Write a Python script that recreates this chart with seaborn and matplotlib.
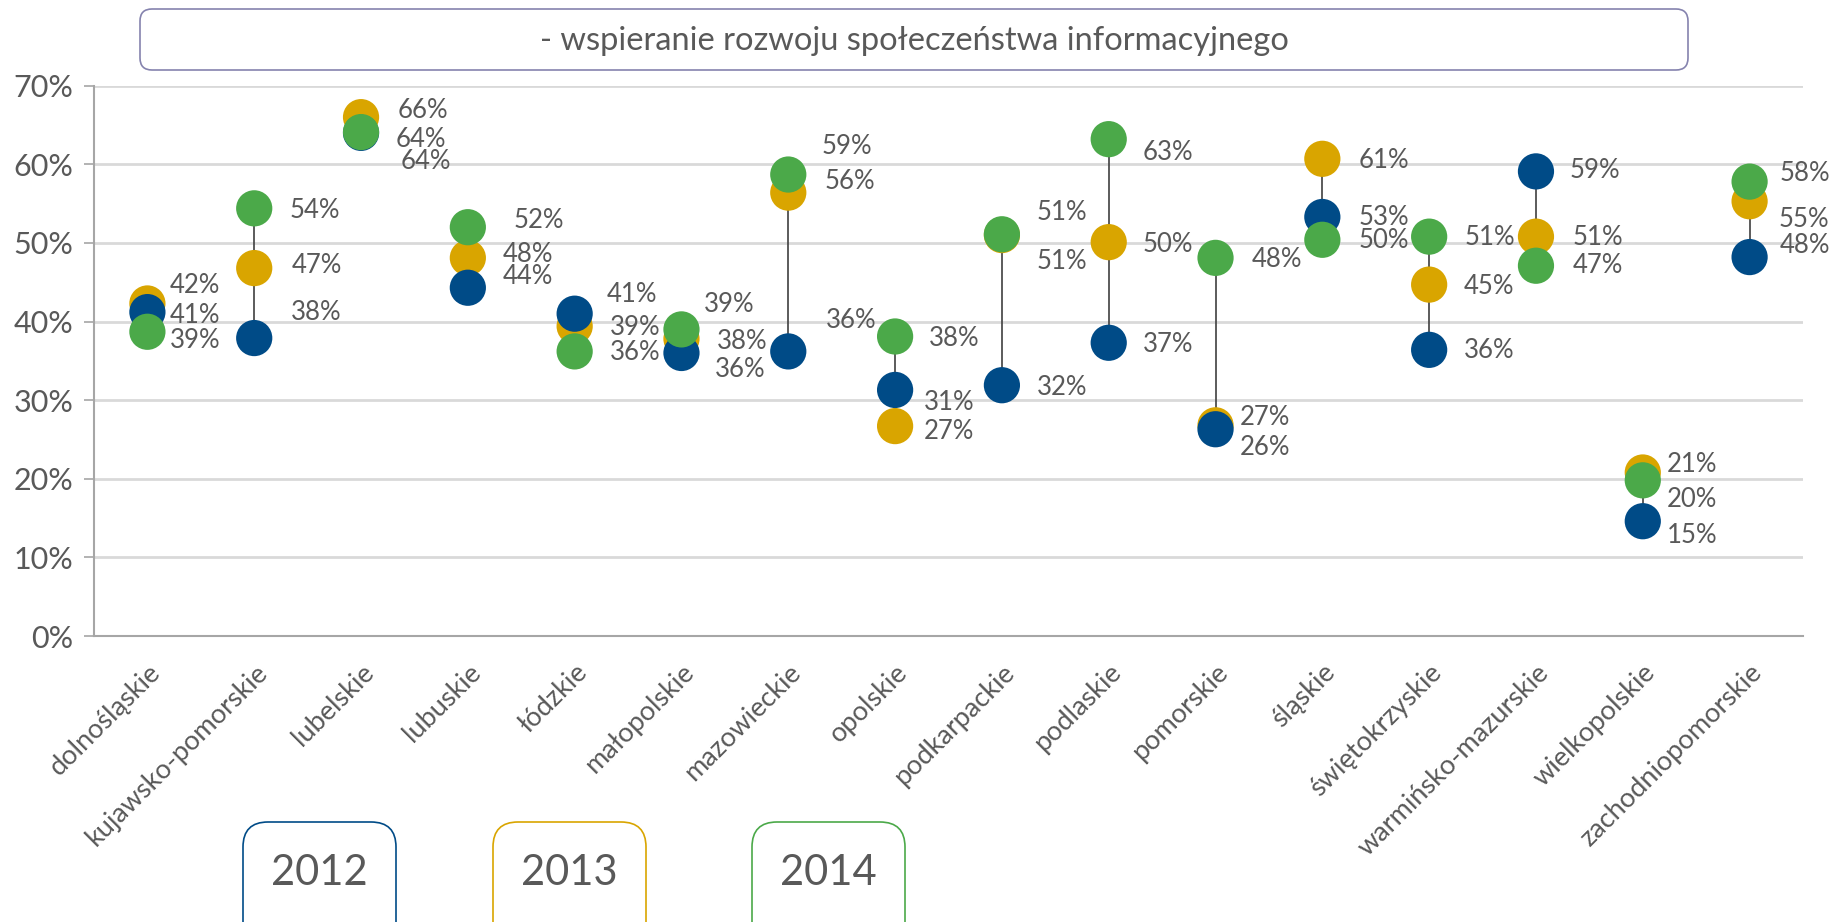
import numpy as np
import pandas as pd
import seaborn as sns
import matplotlib.pyplot as plt
from matplotlib.patches import FancyBboxPatch

# regions and shares per year
regions = ["dolnośląskie", "kujawsko-pomorskie", "lubelskie", "lubuskie", "łódzkie",
           "małopolskie", "mazowieckie", "opolskie", "podkarpackie", "podlaskie",
           "pomorskie", "śląskie", "świętokrzyskie", "warmińsko-mazurskie",
           "wielkopolskie", "zachodniopomorskie"]
v2012 = [41.2, 37.9, 64.0, 44.3, 41.0, 36.0, 36.2, 31.3, 31.9, 37.3, 26.3, 53.3, 36.4, 59.1, 14.6, 48.2]
v2013 = [42.3, 46.8, 66.0, 48.1, 39.4, 37.8, 56.4, 26.7, 51.0, 50.1, 26.8, 60.7, 44.7, 50.8, 20.8, 55.3]
v2014 = [38.7, 54.4, 64.1, 52.0, 36.2, 39.0, 58.7, 38.1, 51.1, 63.2, 48.1, 50.4, 50.8, 47.1, 19.8, 57.8]
years = ["2012", "2013", "2014"]
title = "- wspieranie rozwoju społeczeństwa informacyjnego"

colors = {"2012": "#004B87", "2013": "#D9A500", "2014": "#4BA949"}
text_col = "#595959"

# label offsets in pixels (dx right of point centre, dy down), manual like in excel
lab_off = {
    "2012": [(22, 3), (37, -26), (40, 29), (35, -11), (32, -19), (33, 17), (38, -31), (29, 13),
             (35, 2), (34, 2), (24, 18), (36, 1), (35, 1), (34, -1), (24, 14), (30, -12)],
    "2013": [(22, -18), (37, -3), (37, -7), (35, -3), (35, 1), (35, 3), (36, -11), (29, 5),
             (35, 26), (34, 2), (24, -8), (36, 2), (35, 2), (37, 1), (24, -8), (29, 18)],
    "2014": [(22, 9), (35, 2), (35, 7), (46, -7), (35, 1), (22, -25), (33, -28), (34, 2),
             (35, -22), (34, 13), (36, 2), (36, 1), (35, 1), (37, 0), (24, 19), (30, -8)],
}

df = pd.DataFrame({"region": regions, "2012": v2012, "2013": v2013, "2014": v2014})
# draw order: 2013 at the bottom, then 2012, 2014 on top
long = df.melt(id_vars="region", value_vars=["2013", "2012", "2014"],
               var_name="rok", value_name="val")
long["val"] = long["val"] / 100

sns.set_style("white")
plt.rcParams["font.family"] = ["Lato", "DejaVu Sans"]

fig = plt.figure(figsize=(18.35, 9.22), dpi=100)
ax = fig.add_axes([94 / 1835, 1 - 636 / 922, 1709 / 1835, 550.3 / 922])

xpos = np.arange(len(regions))
lo = df[years].min(axis=1) / 100
hi = df[years].max(axis=1) / 100
ax.vlines(xpos, lo, hi, color="#404040", lw=1.2, zorder=2)

sns.scatterplot(data=long, x="region", y="val", hue="rok", palette=colors,
                s=680, linewidth=0, legend=False, ax=ax, zorder=3)

for y in years:
    for i, v in enumerate(df[y]):
        dx, dy = lab_off[y][i]
        ax.annotate(f"{v:.0f}%", (i, v / 100), xytext=(dx, -dy), textcoords="offset pixels",
                    ha="left", va="center", fontsize=18.5, color=text_col, zorder=4)

ax.set_xlim(-0.5, len(regions) - 0.5)
ax.set_ylim(0, 0.70)
ax.set_yticks(np.arange(0, 0.71, 0.1))
ax.set_yticklabels([f"{int(round(t * 100))}%" for t in np.arange(0, 0.71, 0.1)])
ax.yaxis.grid(True, color="#D9D9D9", lw=2)
ax.set_axisbelow(True)
ax.set_xlabel("")
ax.set_ylabel("")

ax.set_xticks(xpos)
ax.set_xticklabels(regions, rotation=45, ha="right", rotation_mode="anchor")
ax.set_xticks(np.arange(-0.5, len(regions)), minor=True)
ax.tick_params(axis="x", which="major", length=0, pad=17, labelsize=19.5, labelcolor=text_col)
ax.tick_params(axis="x", which="minor", length=7, width=1.2, color="#A6A6A6", direction="out")
ax.tick_params(axis="y", length=7, width=1.2, color="#A6A6A6", direction="out",
               pad=8, labelsize=22, labelcolor=text_col, left=True)

for side in ["top", "right"]:
    ax.spines[side].set_visible(False)
for side in ["left", "bottom"]:
    ax.spines[side].set_color("#A6A6A6")
    ax.spines[side].set_linewidth(1.5)

# title in rounded box
box = FancyBboxPatch((1.40, 8.52), 15.48, 0.61, boxstyle="round,pad=0,rounding_size=0.12",
                     transform=fig.dpi_scale_trans, fc="white", ec="#8583AE", lw=1.2)
fig.patches.append(box)
fig.text(914 / 1835, 1 - 41 / 922, title, ha="center", va="center",
         fontsize=23.5, color=text_col)

# year boxes instead of legend
leg_x = {"2012": 2.43, "2013": 4.93, "2014": 7.52}
for y in years:
    b = FancyBboxPatch((leg_x[y], -0.4), 1.53, 1.4, boxstyle="round,pad=0,rounding_size=0.25",
                       transform=fig.dpi_scale_trans, fc="white", ec=colors[y], lw=1.2)
    fig.patches.append(b)
    fig.text((leg_x[y] + 0.765) * 100 / 1835, 49 / 922, y, ha="center", va="center",
             fontsize=30, color=text_col)

fig.savefig("out.png", dpi=100)
